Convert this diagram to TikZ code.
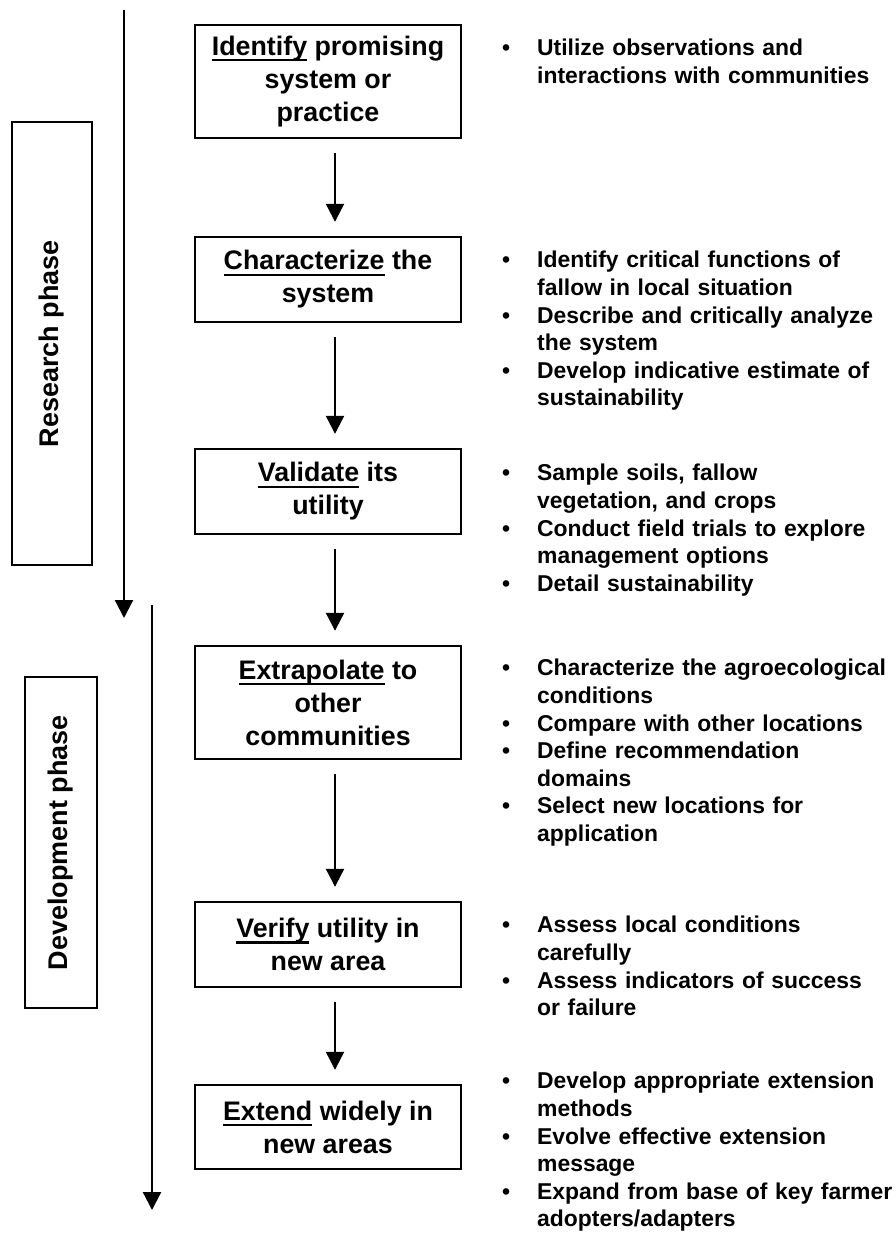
\documentclass[tikz,border=0pt]{standalone}
\usepackage{fontspec}
\setmainfont{Liberation Sans}
\usetikzlibrary{positioning, arrows.meta}

% underlined key word, the line crossing the descenders
\newlength{\kwwd}
\newcommand{\keyword}[1]{\settowidth{\kwwd}{#1}\rlap{#1}\rule[-6pt]{\kwwd}{2.4pt}}
% one bullet of a list, hanging under its first line
\newcommand{\itm}[1]{\par\noindent\hangindent=35pt\hangafter=1\rule{0pt}{20pt}\makebox[35pt][l]{\textbullet}#1\par}

\tikzset{
  stepbox/.style={draw, line width=2.4pt, minimum width=266pt, inner sep=0pt,
    align=center, font=\fontsize{26.8}{33}\selectfont\bfseries},
  phasebox/.style={draw, line width=1.4pt, rotate=90, inner sep=0pt,
    font=\fontsize{27}{32}\selectfont\bfseries},
  notes/.style={anchor=north west, inner sep=0pt, text width=440pt, align=left,
    font=\fontsize{22.9}{27.6}\selectfont\bfseries},
  flow/.style={line width=2.2pt, -{Triangle[width=18pt,length=18pt]},
    shorten <=14pt, shorten >=14pt},
  phaseflow/.style={line width=2.2pt, -{Triangle[width=18pt,length=18pt]}}
}

\begin{document}
\begin{tikzpicture}[x=1pt, y=-1pt]
    % the page
    \path[fill=white, use as bounding box] (0,0) rectangle (896,1258);

    % the phases
    \node[phasebox, minimum width=443pt, minimum height=80pt] (research) at (52,343.5) {Research phase};
    \node[phasebox, minimum width=331pt, minimum height=72pt] (development) at (61,842.5) {Development phase};

    \coordinate (research top) at (124,10);
    \coordinate (research end) at (124,618);
    \coordinate (development top) at (152,605);
    \coordinate (development end) at (152,1210);
    \draw[phaseflow] (research top) -- (research end);
    \draw[phaseflow] (development top) -- (development end);

    % the steps
    \node[stepbox, minimum height=113pt] (identify) at (328,81.5)
        {\keyword{Identify} promising\\system or\\practice};
    \node[stepbox, minimum height=85pt] (characterize) at (328,279.5)
        {\keyword{Characterize} the\\system};
    \node[stepbox, minimum height=85pt] (validate) at (328,491.5)
        {\keyword{Validate} its\\utility};
    \node[stepbox, minimum height=113pt] (extrapolate) at (328,702.5)
        {\keyword{Extrapolate} to\\other\\communities};
    \node[stepbox, minimum height=85pt] (verify) at (328,944.5)
        {\keyword{Verify} utility in\\new area};
    \node[stepbox, minimum height=84pt] (extend) at (328,1127)
        {\keyword{Extend} widely in\\new areas};

    \foreach \a/\b in {identify/characterize, characterize/validate, validate/extrapolate,
                       extrapolate/verify, verify/extend}
        \draw[flow] ([xshift=7pt]\a.south) -- ([xshift=7pt]\b.north);

    % the notes beside each step
    \node[notes] (identify notes) at (502,28) {%
        \itm{Utilize observations and\newline interactions with communities}};
    \node[notes] (characterize notes) at (502,240) {%
        \itm{Identify critical functions of\newline fallow in local situation}
        \itm{Describe and critically analyze\newline the system}
        \itm{Develop indicative estimate of\newline sustainability}};
    \node[notes] (validate notes) at (502,453) {%
        \itm{Sample soils, fallow\newline vegetation, and crops}
        \itm{Conduct field trials to explore\newline management options}
        \itm{Detail sustainability}};
    \node[notes] (extrapolate notes) at (502,648) {%
        \itm{Characterize the agroecological\newline conditions}
        \itm{Compare with other locations}
        \itm{Define recommendation\newline domains}
        \itm{Select new locations for\newline application}};
    \node[notes] (verify notes) at (502,905) {%
        \itm{Assess local conditions\newline carefully}
        \itm{Assess indicators of success\newline or failure}};
    \node[notes] (extend notes) at (502,1061) {%
        \itm{Develop appropriate extension\newline methods}
        \itm{Evolve effective extension\newline message}
        \itm{Expand from base of key farmer\newline adopters/adapters}};
\end{tikzpicture}
\end{document}
